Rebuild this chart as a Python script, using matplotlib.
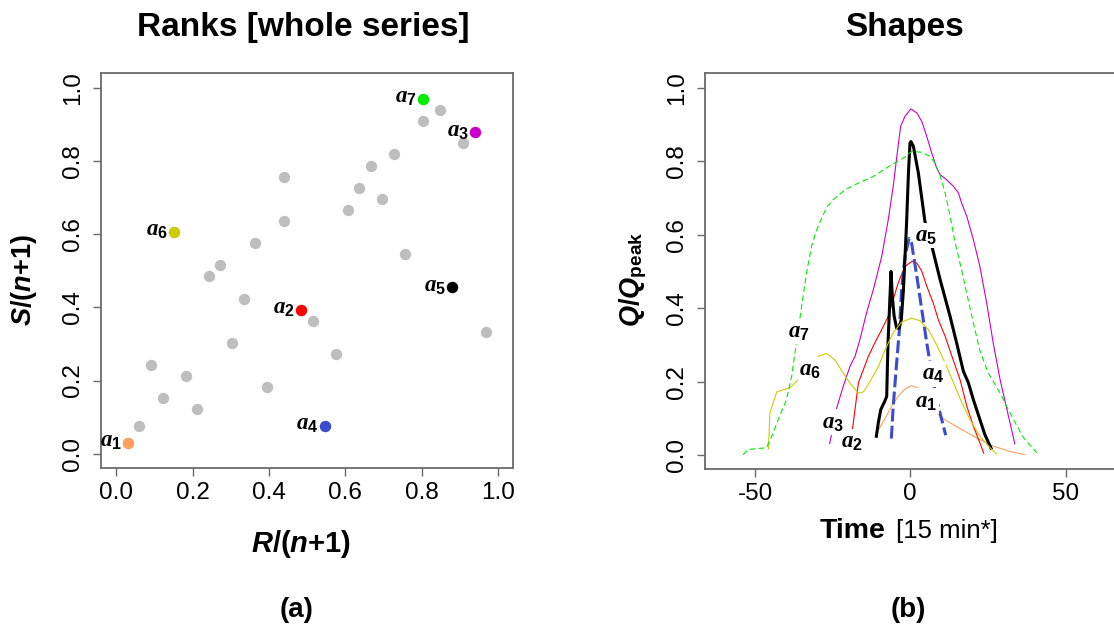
import matplotlib
matplotlib.use("Agg")
import matplotlib.pyplot as plt

# ---------------- data ----------------
n_events = 32
# rank pairs (R, S) of all events of the series
rank_R = [1, 2, 3, 4, 5, 6, 7, 8, 9, 10, 11, 12, 13, 14.5, 14.5, 16, 17, 18,
          19, 20, 21, 22, 23, 24, 25, 26.5, 26.5, 28, 29, 30, 31, 32]
rank_S = [1, 2.5, 8, 5, 20, 7, 4, 16, 17, 10, 14, 19, 6, 25, 21, 13, 12, 2.5,
          9, 22, 24, 26, 23, 27, 18, 32, 30, 31, 15, 28, 29, 11]

# highlighted events: index into the rank lists
sel_names = ["1", "2", "3", "4", "5", "6", "7"]
sel_index = [0, 15, 30, 17, 28, 4, 25]
sel_colors = ["#FF9F5F", "#FF0000", "#CC00CC", "#3B4CCF", "#000000",
              "#CCCC00", "#00EE00"]

# normalised hydrograph shapes (time in 15-min steps relative to the peak)
t_a1 = [-10.5, -8.1, -6.0, -3.9, -1.7, 0.3, 2.3, 4.0, 6.0, 8.0, 10.6, 16.0,
        21.0, 26.5, 32.0, 36.9]
q_a1 = [0.065, 0.100, 0.133, 0.160, 0.180, 0.189, 0.184, 0.166, 0.140, 0.119,
        0.099, 0.072, 0.048, 0.025, 0.010, 0.001]

t_a2 = [-18.7, -17.8, -16.7, -15.1, -13.5, -11.4, -9.2, -7.1, -5.5, -3.9, -1.7,
        0.6, 2.1, 3.7, 5.3, 7.4, 9.0, 11.2, 13.4, 16.0, 18.2, 20.3, 22.4, 23.7]
q_a2 = [0.065, 0.124, 0.197, 0.233, 0.269, 0.306, 0.342, 0.378, 0.424, 0.469,
        0.514, 0.528, 0.523, 0.501, 0.460, 0.414, 0.369, 0.324, 0.269, 0.206,
        0.133, 0.079, 0.033, 0.004]

t_a3 = [-26.0, -24.8, -23.7, -21.6, -19.4, -17.8, -16.2, -14.1, -11.9, -9.2,
        -7.1, -5.5, -4.2, -3.1, -1.7, 0.2, 2.1, 3.7, 5.3, 6.9, 8.5, 9.6, 11.7,
        13.9, 15.5, 16.5, 18.2, 20.3, 22.4, 24.6, 26.7, 28.9, 31.6, 33.7]
q_a3 = [0.030, 0.079, 0.128, 0.187, 0.242, 0.269, 0.315, 0.387, 0.451, 0.541,
        0.641, 0.732, 0.823, 0.896, 0.923, 0.943, 0.932, 0.909, 0.868, 0.823,
        0.782, 0.764, 0.750, 0.732, 0.714, 0.687, 0.650, 0.587, 0.514, 0.414,
        0.305, 0.206, 0.106, 0.029]

t_a4 = [-6.1, -5.5, -4.4, -3.5, -2.8, -1.7, -0.4, 0.4, 2.1, 3.7, 5.3, 6.9,
        8.5, 10.1, 11.4]
q_a4 = [0.045, 0.133, 0.251, 0.342, 0.451, 0.541, 0.590, 0.578, 0.487, 0.396,
        0.305, 0.224, 0.151, 0.097, 0.054]

t_a5 = [-11.0, -10.3, -9.5, -8.2, -7.6, -7.2, -6.6, -6.2, -5.8, -5.2, -4.4,
        -3.6, -2.9, -2.2, -1.7, -1.2, -0.6, -0.1, 0.2, 1.0, 2.6, 4.7, 7.2, 9.6,
        12.8, 14.9, 17.1, 18.7, 20.3, 22.4, 24.0, 26.2]
q_a5 = [0.047, 0.088, 0.124, 0.147, 0.160, 0.300, 0.420, 0.500, 0.433, 0.378,
        0.346, 0.346, 0.369, 0.451, 0.541, 0.632, 0.768, 0.850, 0.854, 0.841,
        0.768, 0.637, 0.560, 0.478, 0.378, 0.306, 0.228, 0.197, 0.151, 0.097,
        0.056, 0.015]

t_a6 = [-45.7, -45.2, -43.0, -40.9, -38.7, -37.1, -35.5, -32.8, -29.6, -26.9,
        -24.2, -21.6, -19.4, -16.7, -15.1, -13.0, -10.3, -8.1, -5.5, -2.8, 0.4,
        3.1, 5.8, 8.5, 11.2, 13.9, 16.5, 19.2, 22.4, 25.7, 27.8]
q_a6 = [0.015, 0.115, 0.172, 0.178, 0.183, 0.197, 0.210, 0.245, 0.269, 0.277,
        0.258, 0.224, 0.195, 0.169, 0.172, 0.200, 0.240, 0.287, 0.333, 0.362,
        0.373, 0.366, 0.342, 0.300, 0.251, 0.197, 0.145, 0.097, 0.051, 0.020,
        0.002]

t_a7 = [-53.8, -52.2, -46.3, -44.6, -42.5, -39.9, -38.2, -36.6, -35.0, -33.4,
        -31.8, -30.1, -28.5, -26.9, -24.8, -21.0, -16.7, -11.9, -6.0, -2.2,
        0.4, 3.7, 6.3, 7.9, 9.6, 11.2, 12.8, 14.4, 16.5, 18.2, 20.3, 22.4,
        25.0, 28.9, 31.0, 33.2, 36.4, 40.7]
q_a7 = [0.001, 0.015, 0.020, 0.051, 0.097, 0.150, 0.215, 0.310, 0.405, 0.496,
        0.569, 0.614, 0.646, 0.675, 0.696, 0.723, 0.741, 0.759, 0.791, 0.809,
        0.827, 0.825, 0.814, 0.796, 0.762, 0.714, 0.652, 0.580, 0.505, 0.440,
        0.360, 0.285, 0.225, 0.169, 0.133, 0.097, 0.048, 0.006]

shape_t = [t_a1, t_a2, t_a3, t_a4, t_a5, t_a6, t_a7]
shape_q = [q_a1, q_a2, q_a3, q_a4, q_a5, q_a6, q_a7]
shape_lw = [0.8, 0.8, 0.8, 2.2, 2.2, 0.8, 0.8]
shape_dash = [None, None, None, (4.2, 1.4), None, None, (5, 3)]

# label anchor for every shape (time, Q/Qpeak)
lab_t = [5.2, -18.8, -24.9, 7.4, 5.2, -32.4, -35.9]
lab_q = [0.147, 0.036, 0.090, 0.221, 0.599, 0.233, 0.337]

# ---------------- style ----------------
plt.rcParams["font.family"] = ["Liberation Sans", "DejaVu Sans"]
plt.rcParams["mathtext.fontset"] = "custom"
plt.rcParams["mathtext.rm"] = "Liberation Sans:bold"
plt.rcParams["mathtext.bf"] = "Liberation Sans:bold"
plt.rcParams["mathtext.it"] = "Liberation Serif:italic:bold"
plt.rcParams["mathtext.bfit"] = "Liberation Sans:italic:bold"

W, H = 1114, 633
fig = plt.figure(figsize=(W / 100, H / 100), dpi=100)


def px_box(left, top, right, bottom):
    return [left / W, 1 - bottom / H, (right - left) / W, (bottom - top) / H]


def fx(x):
    return x / W


def fy(y):
    return 1 - y / H


frame_col = "#6a6a6a"


def style_axes(ax, xt, xtl, yt, ytl):
    for s in ax.spines.values():
        s.set_color(frame_col)
        s.set_linewidth(1.3)
    ax.set_xticks(xt)
    ax.set_xticklabels(xtl)
    ax.set_yticks(yt)
    ax.set_yticklabels(ytl)
    ax.tick_params(direction="out", length=6, width=1.0, color=frame_col,
                   labelsize=17.5, labelcolor="black")
    ax.tick_params(axis="x", pad=4)
    ax.tick_params(axis="y", pad=6, labelrotation=90)
    for lab in ax.get_yticklabels():
        lab.set_va("center")


# ---------------- (a) ranks ----------------
axL = fig.add_axes(px_box(101, 73.3, 513.3, 468.3))
xr = [r / (n_events + 1) for r in rank_R]
ys = [s / (n_events + 1) for s in rank_S]
axL.scatter(xr, ys, s=67, color="#BEBEBE", linewidths=0, zorder=2)
for name, idx, col in zip(sel_names, sel_index, sel_colors):
    axL.scatter([xr[idx]], [ys[idx]], s=67, color=col, linewidths=0, zorder=3)
    axL.annotate(r"$a_{%s}$" % name, (xr[idx], ys[idx]),
                 xytext=(-4.5, 1.5), textcoords="offset points",
                 ha="right", va="center", fontsize=16.5, zorder=4)
axL.set_xlim(-0.04, 1.04)
axL.set_ylim(-0.04, 1.04)
ticks = [0, 0.2, 0.4, 0.6, 0.8, 1.0]
tl = ["0.0", "0.2", "0.4", "0.6", "0.8", "1.0"]
style_axes(axL, ticks, tl, ticks, tl)

# ---------------- (b) shapes ----------------
axR = fig.add_axes(px_box(705, 73.3, 1115.6, 469))
for i in range(7):
    line, = axR.plot(shape_t[i], shape_q[i], color=sel_colors[i],
                     lw=shape_lw[i], solid_capstyle="butt", zorder=2 + i * 0.1)
    if shape_dash[i] is not None:
        line.set_dashes(shape_dash[i])
for i in range(7):
    axR.text(lab_t[i], lab_q[i], r"$a_{%s}$" % sel_names[i], ha="center",
             va="center", fontsize=16.5, zorder=5,
             bbox=dict(boxstyle="square,pad=0.05", fc="white", ec="none"))
axR.set_xlim(-66.1, 66.1)
axR.set_ylim(-0.038, 1.04)
style_axes(axR, [-50, 0, 50], ["-50", "0", "50"], ticks, tl)
axR.spines["right"].set_visible(False)

# ---------------- titles and axis labels ----------------
fig.text(fx(303), fy(36), "Ranks [whole series]", ha="center", va="baseline",
         fontsize=24, fontweight="bold")
fig.text(fx(904), fy(36), "Shapes", ha="center", va="baseline",
         fontsize=24, fontweight="bold")

fig.text(fx(301), fy(551.7), r"$\mathbfit{R}$/($\mathbfit{n}$+1)",
         ha="center", va="baseline", fontsize=21, fontweight="bold")
fig.text(fx(24), fy(280), r"$\mathbfit{S}$/($\mathbfit{n}$+1)",
         ha="center", va="center", rotation=90, fontsize=19.5,
         fontweight="bold")
fig.text(fx(633), fy(279), r"$\mathbfit{Q}$/$\mathbfit{Q}_{\mathbf{peak}}$",
         ha="center", va="center", rotation=90, fontsize=19.5,
         fontweight="bold")
fig.text(fx(885), fy(538.3), "Time", ha="right", va="baseline",
         fontsize=20.5, fontweight="bold")
fig.text(fx(896), fy(538.3), "[15 min*]", ha="left", va="baseline",
         fontsize=18.5)

fig.text(fx(297), fy(617.3), "(a)", ha="center", va="baseline",
         fontsize=20, fontweight="bold")
fig.text(fx(908.7), fy(617.3), "(b)", ha="center", va="baseline",
         fontsize=20, fontweight="bold")

fig.savefig("out.png", dpi=100)
